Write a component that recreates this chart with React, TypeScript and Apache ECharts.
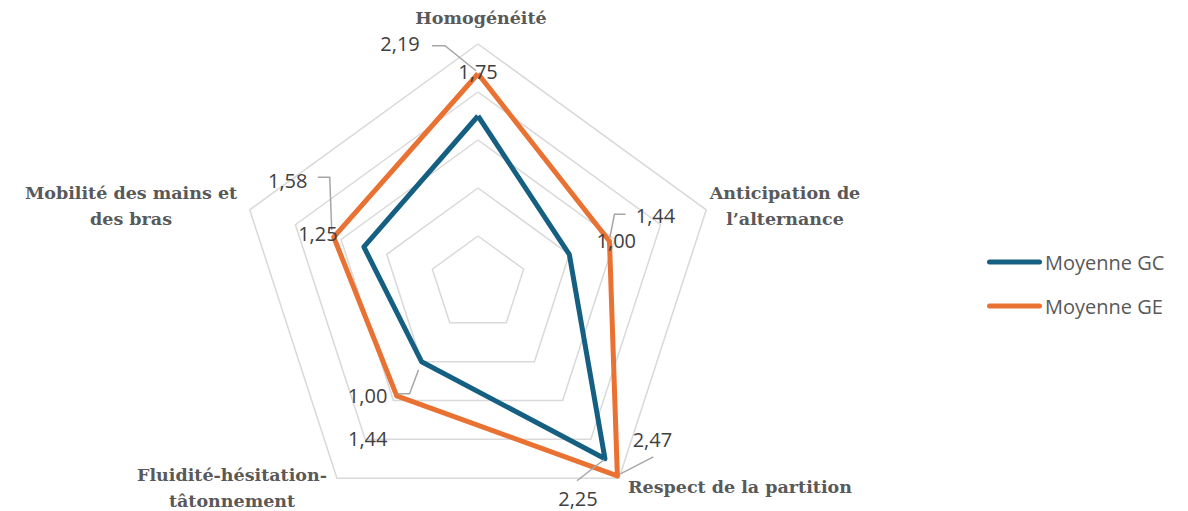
import React, { useEffect, useRef } from 'react';
import * as echarts from 'echarts';

// ---- data (indicators listed clockwise from the top) ----
const indicatorNames = [
  'Homogénéité',
  'Anticipation de\nl’alternance',
  'Respect de la partition',
  'Fluidité-hésitation-\ntâtonnement',
  'Mobilité des mains et\ndes bras',
];
const seriesNames = ['Moyenne GC', 'Moyenne GE'];
const gcValues = [1.75, 1.0, 2.25, 1.0, 1.25];
const geValues = [2.19, 1.44, 2.47, 1.44, 1.58];
const axisMin = 0;
const axisMax = 2.5;
const splitCount = 5;

// ECharts radar runs counter-clockwise: reorder so the picture runs clockwise
const ccwOrder = [0, 4, 3, 2, 1];
const reorder = <T,>(arr: T[]) => ccwOrder.map((k) => arr[k]);

// ---- layout / style ----
const CX = 478;
const CY = 284;
const R = 240;
const colors = ['#156082', '#E97132'];
const labelFont = '"Open Sans", sans-serif';
const nameFont = '"DejaVu Serif", serif';

// label offsets relative to the vertex of their own series
type LabelSpec = { s: number; i: number; dx: number; dy: number; leader?: number[][] };
const labelSpecs: LabelSpec[] = [
  { s: 0, i: 0, dx: 0, dy: -45 },
  { s: 1, i: 0, dx: -78, dy: -30, leader: [[-46, -28], [-33, -28], [-2, -3]] },
  { s: 0, i: 1, dx: 47, dy: -14 },
  { s: 1, i: 1, dx: 46, dy: -26, leader: [[16, -27], [5, -27], [0, -2]] },
  { s: 0, i: 2, dx: -27, dy: 40, leader: [[-28, 22], [-1, 1]] },
  { s: 1, i: 2, dx: 35, dy: -36, leader: [[36, -19], [3, -2]] },
  { s: 0, i: 3, dx: -54, dy: 34, leader: [[-3, 8], [-12, 32], [-24, 32]] },
  { s: 1, i: 3, dx: -29, dy: 43 },
  { s: 0, i: 4, dx: -46, dy: -13 },
  { s: 1, i: 4, dx: -46, dy: -57, leader: [[-16, -60], [-4, -60], [-2, -7]] },
];

const namePos: { x: number; y: number; align: 'center' | 'left' }[] = [
  { x: 481, y: 18, align: 'center' },
  { x: 785, y: 206, align: 'center' },
  { x: 628, y: 487, align: 'left' },
  { x: 232, y: 488, align: 'center' },
  { x: 131, y: 206, align: 'center' },
];

function vertex(i: number, v: number): [number, number] {
  const ang = ((90 - (360 / indicatorNames.length) * i) * Math.PI) / 180;
  const r = ((v - axisMin) / (axisMax - axisMin)) * R;
  return [CX + r * Math.cos(ang), CY - r * Math.sin(ang)];
}

const fmt = (v: number) => v.toFixed(2).replace('.', ',');

export default function App() {
  const ref = useRef<HTMLDivElement>(null);
  useEffect(() => {
    if (!ref.current) return;
    const chart = echarts.init(ref.current, undefined, { renderer: 'svg' });
    const allValues = [gcValues, geValues];

    const graphics: any[] = [];
    labelSpecs.forEach((l) => {
      const v = allValues[l.s][l.i];
      const [px, py] = vertex(l.i, v);
      if (l.leader) {
        graphics.push({
          type: 'polyline',
          z: 90,
          shape: { points: l.leader.map(([a, b]) => [px + a, py + b]) },
          style: { stroke: '#A6A6A6', lineWidth: 1.5, fill: 'none' },
          silent: true,
        });
      }
      graphics.push({
        type: 'text',
        z: 100,
        x: px + l.dx,
        y: py + l.dy,
        style: {
          text: fmt(v),
          font: `20px ${labelFont}`,
          fill: '#404040',
          align: 'center',
          verticalAlign: 'middle',
        },
      });
    });
    indicatorNames.forEach((n, i) => {
      const p = namePos[i];
      graphics.push({
        type: 'text',
        z: 100,
        x: p.x,
        y: p.y,
        style: {
          text: n,
          font: `bold 17.5px ${nameFont}`,
          fill: '#595959',
          align: p.align,
          verticalAlign: 'middle',
          lineHeight: 26,
        },
      });
    });

    chart.setOption({
      animation: false,
      legend: {
        orient: 'vertical',
        left: 982,
        top: 247,
        itemWidth: 55,
        itemHeight: 5,
        itemGap: 24,
        icon: 'path://M2.5,0 H52.5 A2.5,2.5 0 0 1 52.5,5 H2.5 A2.5,2.5 0 0 1 2.5,0 Z',
        data: seriesNames,
        textStyle: { fontFamily: labelFont, fontSize: 20, color: '#595959', padding: [0, 0, 0, -2] },
      },
      radar: {
        center: [CX, CY],
        radius: R,
        startAngle: 90,
        shape: 'polygon',
        splitNumber: splitCount,
        indicator: reorder(indicatorNames).map((n) => ({ name: n, min: axisMin, max: axisMax })),
        axisName: { show: false },
        axisLine: { show: false },
        axisTick: { show: false },
        axisLabel: { show: false },
        splitArea: { show: false },
        splitLine: { lineStyle: { color: '#D9D9D9', width: 1.5 } },
      },
      graphic: graphics,
      series: [
        {
          type: 'radar',
          symbol: 'none',
          data: [
            {
              name: seriesNames[0],
              value: reorder(gcValues),
              lineStyle: { color: colors[0], width: 5 },
              itemStyle: { color: colors[0] },
            },
            {
              name: seriesNames[1],
              value: reorder(geValues),
              lineStyle: { color: colors[1], width: 5 },
              itemStyle: { color: colors[1] },
            },
          ],
        },
      ],
    });
    return () => chart.dispose();
  }, []);
  return (
    <div
      ref={ref}
      style={{ position: 'fixed', left: 0, top: 0, width: 1188, height: 511, background: '#fff' }}
    />
  );
}
